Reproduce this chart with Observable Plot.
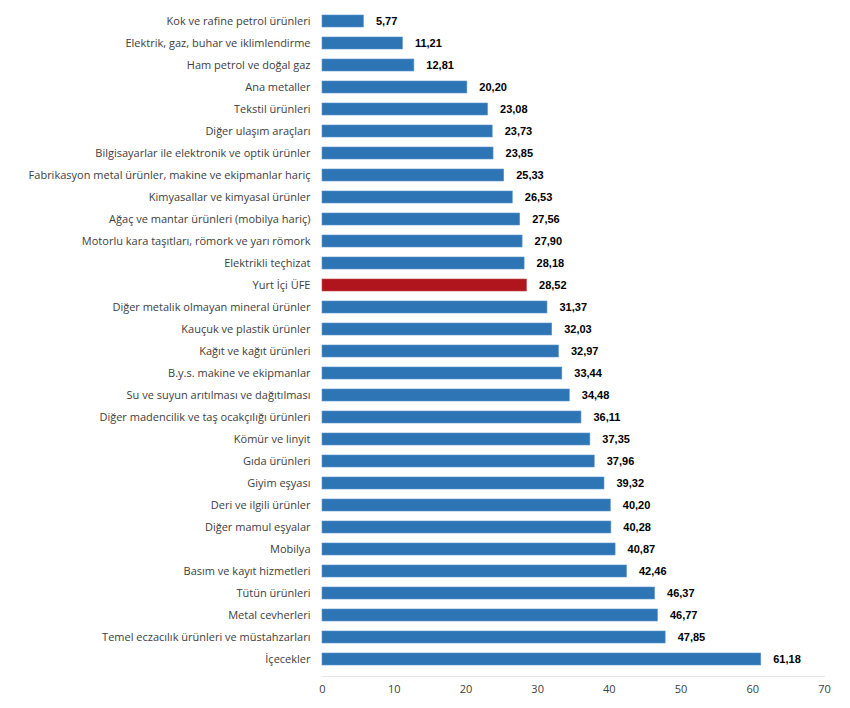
<!DOCTYPE html>
<html>
<head>
<meta charset="utf-8">
<script src="https://cdn.jsdelivr.net/npm/d3@7"></script>
<script src="https://cdn.jsdelivr.net/npm/@observablehq/plot@0.6"></script>
<style>
  html, body { margin: 0; padding: 0; background: #fff; }
  #chart svg { display: block; }
</style>
</head>
<body>
<div id="chart"></div>
<script>
const categories = [
  "Kok ve rafine petrol ürünleri",
  "Elektrik, gaz, buhar ve iklimlendirme",
  "Ham petrol ve doğal gaz",
  "Ana metaller",
  "Tekstil ürünleri",
  "Diğer ulaşım araçları",
  "Bilgisayarlar ile elektronik ve optik ürünler",
  "Fabrikasyon metal ürünler, makine ve ekipmanlar hariç",
  "Kimyasallar ve kimyasal ürünler",
  "Ağaç ve mantar ürünleri (mobilya hariç)",
  "Motorlu kara taşıtları, römork ve yarı römork",
  "Elektrikli teçhizat",
  "Yurt İçi ÜFE",
  "Diğer metalik olmayan mineral ürünler",
  "Kauçuk ve plastik ürünler",
  "Kağıt ve kağıt ürünleri",
  "B.y.s. makine ve ekipmanlar",
  "Su ve suyun arıtılması ve dağıtılması",
  "Diğer madencilik ve taş ocakçılığı ürünleri",
  "Kömür ve linyit",
  "Gıda ürünleri",
  "Giyim eşyası",
  "Deri ve ilgili ürünler",
  "Diğer mamul eşyalar",
  "Mobilya",
  "Basım ve kayıt hizmetleri",
  "Tütün ürünleri",
  "Metal cevherleri",
  "Temel eczacılık ürünleri ve müstahzarları",
  "İçecekler"
];
const values = [5.77, 11.21, 12.81, 20.20, 23.08, 23.73, 23.85, 25.33, 26.53, 27.56, 27.90, 28.18, 28.52, 31.37, 32.03, 32.97, 33.44, 34.48, 36.11, 37.35, 37.96, 39.32, 40.20, 40.28, 40.87, 42.46, 46.37, 46.77, 47.85, 61.18];
const highlight = "Yurt İçi ÜFE";
const xTicks = [0, 10, 20, 30, 40, 50, 60, 70];

const data = categories.map((c, i) => ({category: c, value: values[i]}));
const fmt = v => v.toFixed(2).replace(".", ",");

const chart = Plot.plot({
  width: 850,
  height: 708,
  marginLeft: 322,
  marginRight: 26,
  marginTop: 4,
  marginBottom: 32,
  style: {fontFamily: "'Open Sans', sans-serif", fontSize: "11px", color: "#404040", background: "#fff"},
  x: {domain: [0, 70], ticks: xTicks, label: null},
  y: {domain: categories, padding: 0.45, label: null},
  marks: [
    Plot.ruleX([0], {stroke: "#e6e6e6", y1: null}),
    Plot.frame({anchor: "bottom", stroke: "#e6e6e6"}),
    Plot.barX(data, {
      y: "category",
      x: "value",
      fill: d => d.category === highlight ? "#B0141C" : "#2E75B6",
      stroke: d => d.category === highlight ? "#c44a50" : "#5b93c8",
      strokeWidth: 0.6
    }),
    Plot.text(data, {
      y: "category",
      x: "value",
      text: d => fmt(d.value),
      textAnchor: "start",
      dx: 12,
      fontWeight: "bold",
      fontFamily: "'Liberation Sans', Arial, sans-serif",
      fontSize: 11,
      fill: "#000"
    }),
    Plot.axisY({tickSize: 0, tickPadding: 12, fill: "#404040", fontSize: 11}),
    Plot.axisX({ticks: xTicks, tickSize: 0, tickPadding: 9, fill: "#404040", fontSize: 11, tickFormat: d => String(d)})
  ]
});
document.getElementById("chart").appendChild(chart);
</script>
</body>
</html>
